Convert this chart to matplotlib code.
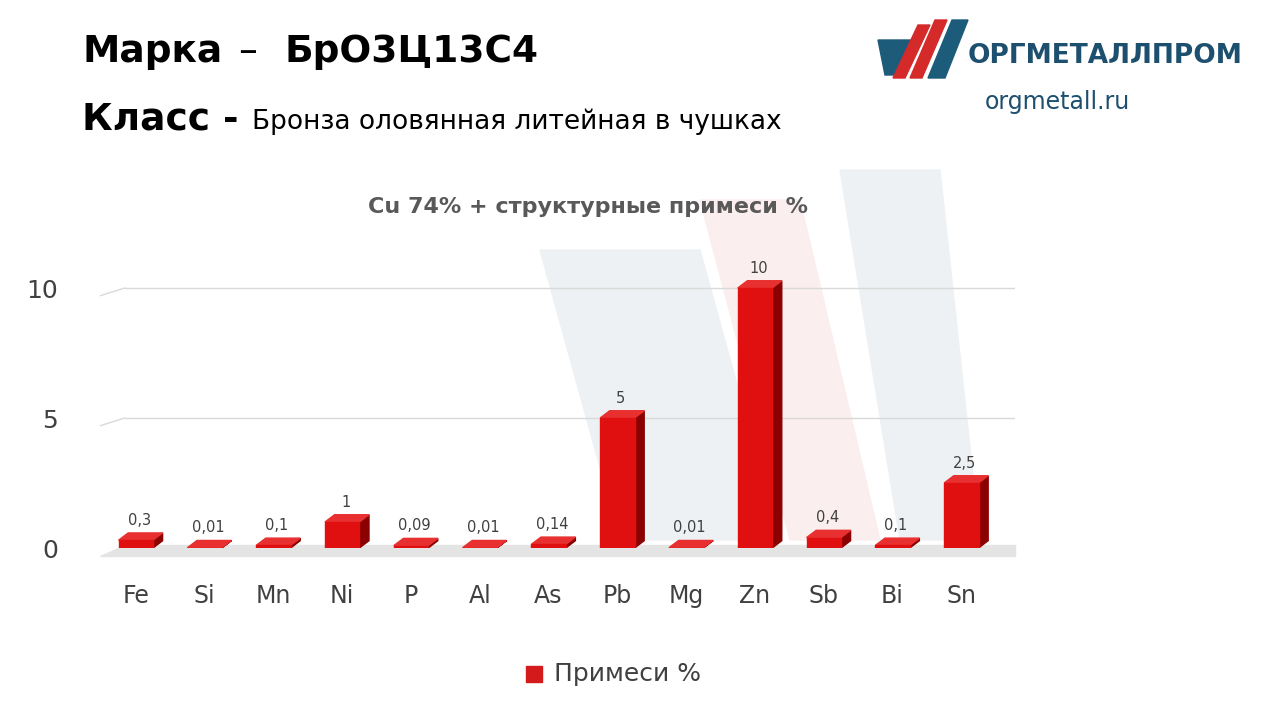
import matplotlib
matplotlib.use("Agg")
import matplotlib.pyplot as plt
from matplotlib.patches import Polygon, Rectangle

categories = ["Fe", "Si", "Mn", "Ni", "P", "Al", "As", "Pb", "Mg", "Zn", "Sb", "Bi", "Sn"]
values = [0.3, 0.01, 0.1, 1, 0.09, 0.01, 0.14, 5, 0.01, 10, 0.4, 0.1, 2.5]
labels = ["0,3", "0,01", "0,1", "1", "0,09", "0,01", "0,14", "5", "0,01", "10", "0,4", "0,1", "2,5"]
yticks = [0, 5, 10]

fig = plt.figure(figsize=(12.8, 7.2), dpi=100)
W, H = 1280, 720

wm = fig.add_axes([0, 0, 1, 1], zorder=0)
wm.set_xlim(0, W); wm.set_ylim(H, 0); wm.axis("off")
wm.add_patch(Polygon([[540, 250], [700, 250], [780, 540], [620, 540]], closed=True, color="#eef1f3"))
wm.add_patch(Polygon([[700, 200], [800, 200], [880, 540], [790, 540]], closed=True, color="#fbeeee"))
wm.add_patch(Polygon([[840, 170], [940, 170], [980, 540], [900, 540]], closed=True, color="#eef1f3"))

# logo
wm.add_patch(Polygon([[878, 40], [915, 40], [905, 75], [885, 75]], closed=True, color="#1d5b7a"))
wm.add_patch(Polygon([[918, 25], [930, 25], [905, 78], [893, 78]], closed=True, color="#d42a2a"))
wm.add_patch(Polygon([[935, 20], [947, 20], [922, 78], [910, 78]], closed=True, color="#d42a2a"))
wm.add_patch(Polygon([[952, 20], [968, 20], [945, 78], [928, 78]], closed=True, color="#1d5b7a"))
wm.text(968, 56, "ОРГМЕТАЛЛПРОМ", fontsize=19, fontweight="bold", color="#1d4f6e", va="center")
wm.text(985, 102, "orgmetall.ru", fontsize=17, color="#1d4f6e", va="center")

wm.text(82, 52, "Марка", fontsize=27, fontweight="bold", va="center")
wm.text(238, 52, "–", fontsize=27, va="center")
wm.text(285, 52, "БрО3Ц13С4", fontsize=27, fontweight="bold", va="center")
wm.text(82, 120, "Класс -", fontsize=27, fontweight="bold", va="center")
wm.text(252, 122, "Бронза оловянная литейная в чушках", fontsize=19, va="center")
wm.text(588, 207, "Cu 74% + структурные примеси %", fontsize=16, fontweight="bold", color="#595959", ha="center", va="center")

wm.add_patch(Rectangle((526, 666), 16, 16, color="#d41a1a"))
wm.text(554, 674, "Примеси %", fontsize=18, color="#404040", va="center")

ax = fig.add_axes([100 / W, 1 - 548 / H, 915 / W, 273 / H], zorder=1)
ax.patch.set_alpha(0)
ax.set_xlim(-0.52, 12.78)
ax.set_ylim(0, 10.5)
for s in ax.spines.values():
    s.set_visible(False)
for y in [5, 10]:
    ax.axhline(y, xmin=0.027, color="#d9d9d9", lw=1)
    ax.plot([-0.52, -0.16], [y - 0.3, y], color="#d9d9d9", lw=1)
ax.add_patch(Polygon([[-0.52, -0.3], [12.78, -0.3], [12.78, 0.1], [-0.16, 0.1]], closed=True,
                     color="#e4e4e4", zorder=1, clip_on=False))

bw = 0.5
dx, dy = 0.14, 0.28
for i, v in enumerate(values):
    x0 = i - bw / 2
    ax.add_patch(Polygon([[x0 + bw, 0], [x0 + bw + dx, dy], [x0 + bw + dx, v + dy], [x0 + bw, v]],
                         closed=True, color="#8b0000", zorder=3))
    ax.add_patch(Polygon([[x0, v], [x0 + dx, v + dy], [x0 + bw + dx, v + dy], [x0 + bw, v]],
                         closed=True, color="#e83030", zorder=3))
    ax.add_patch(Rectangle((x0, 0), bw, v, color="#e01010", zorder=4))
    ax.text(i + 0.05, v + dy + 0.2, labels[i], ha="center", va="bottom", fontsize=10.5, color="#404040")

ax.set_xticks(range(len(categories)))
ax.set_xticklabels(categories, fontsize=17, color="#404040")
ax.set_yticks(yticks)
ax.set_yticklabels([str(t) for t in yticks], fontsize=18, color="#404040")
ax.tick_params(length=0)
ax.tick_params(axis="x", pad=26)
ax.tick_params(axis="y", pad=30)

fig.savefig("out.png", dpi=100)
